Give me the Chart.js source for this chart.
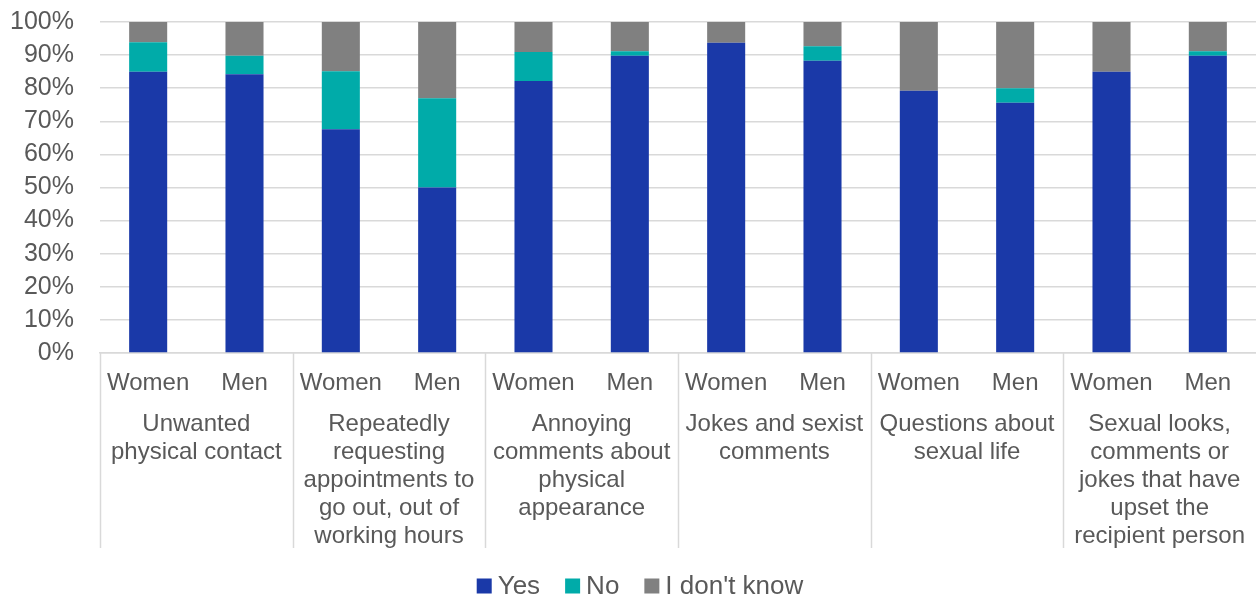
<!DOCTYPE html>
<html>
<head>
<meta charset="utf-8">
<script src="https://cdn.jsdelivr.net/npm/chart.js@4/dist/chart.umd.min.js"></script>
<style>
  html, body { margin: 0; padding: 0; background: #fff; }
</style>
</head>
<body>
<canvas id="harassmentChart" width="1256" height="597"></canvas>
<script>
// Respondent groups under each situation
const genders = ['Women', 'Men', 'Women', 'Men', 'Women', 'Men', 'Women', 'Men', 'Women', 'Men', 'Women', 'Men'];

// Situation names, one entry per pair of bars, already broken into lines
const situations = [
    ['Unwanted', 'physical contact'],
    ['Repeatedly', 'requesting', 'appointments to', 'go out, out of', 'working hours'],
    ['Annoying', 'comments about', 'physical', 'appearance'],
    ['Jokes and sexist', 'comments'],
    ['Questions about', 'sexual life'],
    ['Sexual looks,', 'comments or', 'jokes that have', 'upset the', 'recipient person']
];

// Share of answers (%)
const yesValues = [85, 84.2, 67.6, 50, 82.2, 89.8, 93.7, 88.3, 79.2, 75.6, 85, 89.8];
const noValues = [8.9, 5.6, 17.5, 27, 8.7, 1.4, 0, 4.4, 0, 4.4, 0, 1.4];
const dontKnowValues = [6.1, 10.2, 14.9, 23, 9.1, 8.8, 6.3, 7.3, 20.8, 20, 15, 8.8];

const yTicks = [0, 10, 20, 30, 40, 50, 60, 70, 80, 90, 100];

const FONT = '"Liberation Sans", Arial, sans-serif';
const TEXT_COLOR = '#595959';
const LINE_COLOR = '#d9d9d9';

// Situation names and the separators between them, below the Women/Men ticks
const groupLabels = {
    id: 'groupLabels',
    afterDraw(chart) {
        const ctx = chart.ctx;
        const x = chart.scales.x;
        const slot = x.getPixelForValue(1) - x.getPixelForValue(0);
        ctx.save();
        ctx.strokeStyle = LINE_COLOR;
        ctx.lineWidth = 1.5;
        ctx.fillStyle = TEXT_COLOR;
        ctx.font = '24px ' + FONT;
        ctx.textAlign = 'center';
        ctx.textBaseline = 'middle';
        situations.forEach((lines, g) => {
            const first = x.getPixelForValue(g * 2);
            const second = x.getPixelForValue(g * 2 + 1);
            const edge = Math.round(first - slot / 2) + 0.5;
            ctx.beginPath();
            ctx.moveTo(edge, x.top);
            ctx.lineTo(edge, x.bottom);
            ctx.stroke();
            const center = (first + second) / 2;
            lines.forEach((line, i) => {
                ctx.fillText(line, center, x.top + 71 + i * 28);
            });
        });
        ctx.restore();
    }
};

// Legend row at the bottom: small square then the series name
const bottomLegend = {
    id: 'bottomLegend',
    afterDraw(chart) {
        const ctx = chart.ctx;
        const box = 15, gap = 6, spacing = 25;
        ctx.save();
        ctx.font = '26px ' + FONT;
        ctx.textBaseline = 'middle';
        const items = chart.data.datasets.map(ds => ({
            text: ds.label,
            color: ds.backgroundColor,
            width: box + gap + ctx.measureText(ds.label).width
        }));
        const total = items.reduce((sum, it) => sum + it.width, 0) + spacing * (items.length - 1);
        let left = 640 - total / 2;
        const y = 586;
        items.forEach(it => {
            ctx.fillStyle = it.color;
            ctx.fillRect(left, y - box / 2, box, box);
            ctx.fillStyle = TEXT_COLOR;
            ctx.fillText(it.text, left + box + gap, y + 1);
            left += it.width + spacing;
        });
        ctx.restore();
    }
};

const ctx = document.getElementById('harassmentChart').getContext('2d');

new Chart(ctx, {
    type: 'bar',
    data: {
        labels: genders,
        datasets: [
            { label: 'Yes', data: yesValues, backgroundColor: '#1a39a8' },
            { label: 'No', data: noValues, backgroundColor: '#00aba9' },
            { label: "I don't know", data: dontKnowValues, backgroundColor: '#808080' }
        ]
    },
    options: {
        responsive: false,
        animation: false,
        events: [],
        layout: { padding: { top: 22, right: 0, bottom: 49, left: 0 } },
        datasets: {
            bar: { categoryPercentage: 1, barPercentage: 0.395, borderWidth: 0 }
        },
        plugins: {
            legend: { display: false },
            tooltip: { enabled: false }
        },
        scales: {
            x: {
                stacked: true,
                grid: { display: false },
                border: { display: true, color: LINE_COLOR, width: 1.5 },
                ticks: {
                    color: TEXT_COLOR,
                    font: { family: FONT, size: 24 },
                    padding: 8,
                    maxRotation: 0,
                    autoSkip: false
                },
                afterFit(scale) { scale.height = 195; }
            },
            y: {
                stacked: true,
                min: 0,
                max: 100,
                grid: { color: LINE_COLOR, lineWidth: 1.5, drawTicks: false },
                border: { display: false },
                afterBuildTicks(scale) {
                    scale.ticks = yTicks.map(v => ({ value: v }));
                },
                ticks: {
                    color: TEXT_COLOR,
                    font: { family: FONT, size: 25 },
                    padding: 26,
                    autoSkip: false,
                    callback: v => v + '%'
                },
                afterFit(scale) {
                    scale.width = 100;
                    scale.paddingTop = 0;
                    scale.paddingBottom = 0;
                }
            }
        }
    },
    plugins: [groupLabels, bottomLegend]
});
</script>
</body>
</html>
